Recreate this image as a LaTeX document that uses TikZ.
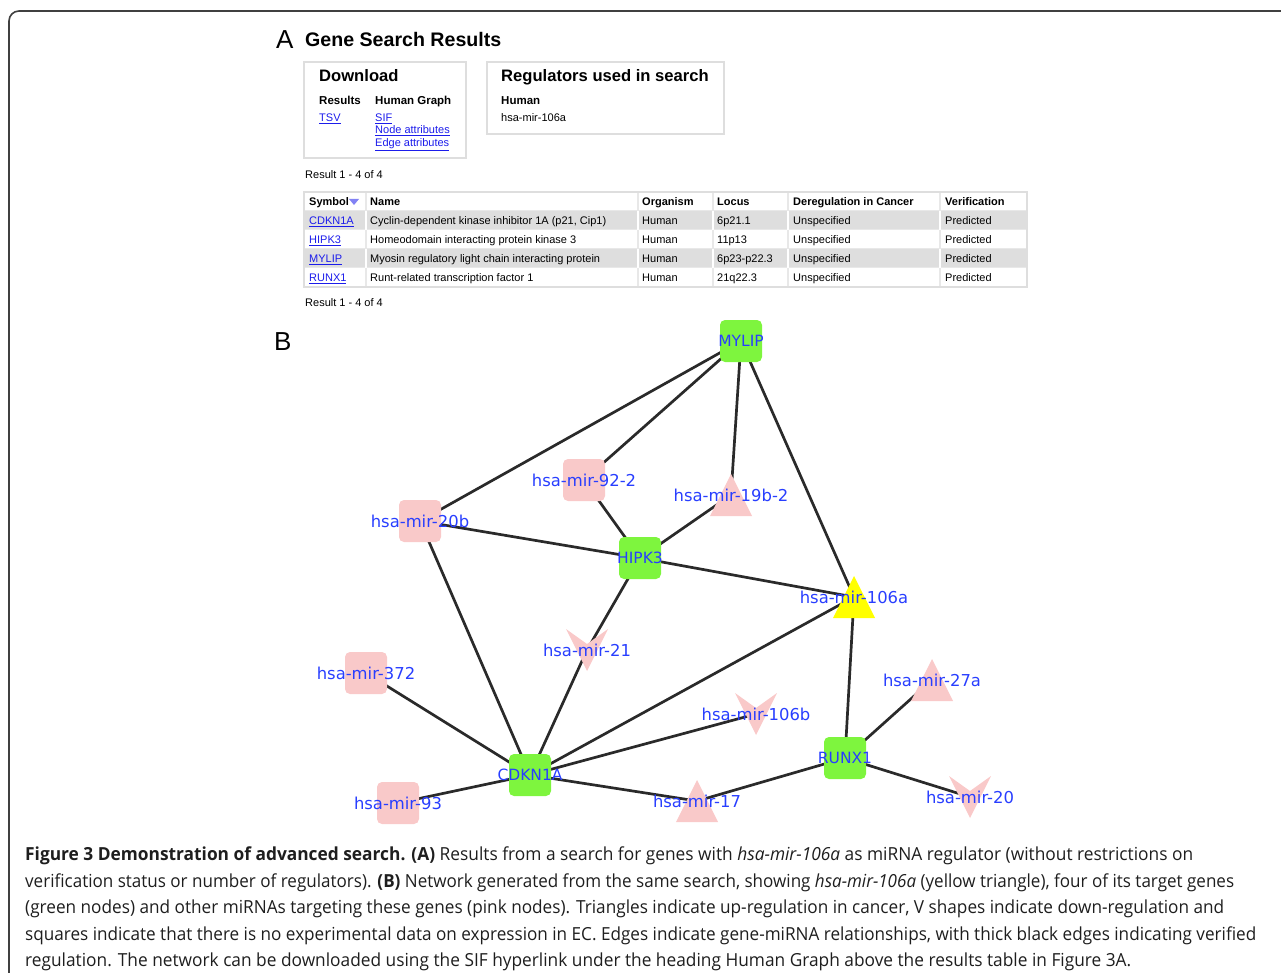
\documentclass[tikz,border=0pt]{standalone}
\usepackage{fontspec}
\setmainfont{Liberation Sans}
\newfontfamily\lblfont{DejaVu Sans}
\newfontfamily\capfont{Open Sans}
\usetikzlibrary{backgrounds}
\definecolor{genegreen}{RGB}{126,245,62}
\definecolor{mirpink}{RGB}{249,201,201}
\definecolor{miryellow}{RGB}{255,255,0}
\definecolor{lblblue}{RGB}{40,62,255}
\definecolor{linkblue}{RGB}{28,28,235}
\definecolor{edgec}{RGB}{42,42,42}
\definecolor{boxgray}{RGB}{222,222,222}
\definecolor{rowgray}{RGB}{222,222,222}
\definecolor{sepgray}{RGB}{232,232,232}
\definecolor{captext}{RGB}{30,30,30}
\newsavebox\capbox
\newcommand\capline[2]{\sbox\capbox{#2}\pgfmathsetmacro\capr{#1/\wd\capbox}\scalebox{\capr}[1]{\usebox\capbox}}
\newcommand\lnk[1]{\textcolor{linkblue}{\underline{#1}}}
\tikzset{
  lbl/.style={font=\lblfont\fontsize{15.5}{18}\selectfont, text=lblblue, inner sep=0pt, fill=none, draw=none},
  mlbl/.style={font=\lblfont\fontsize{16.4}{18}\selectfont, text=lblblue, inner sep=0pt, fill=none, draw=none},
  gene/.style={rectangle, rounded corners=5pt, fill=genegreen, minimum size=42pt, inner sep=0pt, label={[lbl]center:#1}},
  sqmir/.style={rectangle, rounded corners=5pt, fill=mirpink, minimum size=42pt, inner sep=0pt, label={[mlbl]center:#1}},
  upmir/.style={rectangle, minimum size=42pt, inner sep=0pt,
    path picture={\fill[mirpink] (path picture bounding box.south west) -- (path picture bounding box.south east) -- (path picture bounding box.north) -- cycle;},
    label={[mlbl]center:#1}},
  yelmir/.style={rectangle, minimum size=42pt, inner sep=0pt,
    path picture={\fill[miryellow] (path picture bounding box.south west) -- (path picture bounding box.south east) -- (path picture bounding box.north) -- cycle;},
    label={[mlbl]center:#1}},
  downmir/.style={rectangle, minimum size=42pt, inner sep=0pt,
    path picture={\fill[mirpink] (path picture bounding box.north west) -- ([yshift=-15pt]path picture bounding box.north) -- (path picture bounding box.north east) -- (path picture bounding box.south) -- cycle;},
    label={[mlbl]center:#1}},
  edge/.style={line width=2.7pt, edgec},
  txt/.style={inner sep=0pt, anchor=base west},
  small/.style={txt, font=\fontsize{11}{13}\selectfont},
  smallb/.style={txt, font=\bfseries\fontsize{11.5}{13}\selectfont},
  boxtitle/.style={txt, font=\bfseries\fontsize{16.6}{19}\selectfont},
  panel/.style={txt, font=\fontsize{26}{30}\selectfont},
  capl/.style={txt, font=\capfont\fontsize{18}{26}\selectfont, text=captext},
  infobox/.style={draw=boxgray, line width=1.8pt}
}
\begin{document}
\begin{tikzpicture}[x=1pt, y=-1pt]
\useasboundingbox (0,0) rectangle (1281,973);
% frame
\draw[line width=1.6pt, black!75, rounded corners=10pt] (9,1000) -- (9,11) -- (1300,11);

% ---------- Panel A ----------
\node[panel] (labA) at (276,49) {A};
\node[txt, font=\bfseries\fontsize{19.6}{22}\selectfont] (title) at (305,47) {Gene Search Results};
\draw[infobox] (304,62) rectangle (466,158);
\node[boxtitle] (dl) at (319,82) {Download};
\node[smallb] (dlres) at (319,105) {Results};
\node[smallb] (dlhg) at (375,105) {Human Graph};
\node[small] (tsv) at (319,121.5) {\lnk{TSV}};
\node[small] (sif) at (375,121.5) {\lnk{SIF}};
\node[small] (nattr) at (375,134) {\lnk{Node attributes}};
\node[small] (eattr) at (375,146.5) {\lnk{Edge attributes}};
\draw[infobox] (487,62) rectangle (724,134);
\node[boxtitle] (reg) at (501,82) {Regulators used in search};
\node[smallb] (reghum) at (501,105) {Human};
\node[small] (regmir) at (501,121.5) {hsa-mir-106a};
\node[small] (res1) at (305,179) {Result 1 - 4 of 4};

% table
\fill[rowgray] (304,211) rectangle (1027,230);
\fill[rowgray] (304,249) rectangle (1027,268);
\foreach \yy in {211,230,249,268} \draw[sepgray, line width=1pt] (304,\yy) -- (1027,\yy);
\foreach \xx in {366,638,713,788,940} \draw[white, line width=1.2pt] (\xx,192) -- (\xx,287);
\foreach \xx in {366,638,713,788,940} {\draw[sepgray, line width=1.2pt] (\xx,192) -- (\xx,211); \draw[sepgray, line width=1.2pt] (\xx,230) -- (\xx,249); \draw[sepgray, line width=1.2pt] (\xx,268) -- (\xx,287);}
\draw[boxgray, line width=1.2pt] (304,192) rectangle (1027,287);
\node[smallb, font=\bfseries\fontsize{11}{13}\selectfont] (hsym) at (309,206) {Symbol};
\fill[linkblue!55] (349,199) -- (359,199) -- (354,205) -- cycle;
\node[smallb, font=\bfseries\fontsize{11}{13}\selectfont] (hname) at (370,206) {Name};
\node[smallb, font=\bfseries\fontsize{11}{13}\selectfont] (horg) at (642,206) {Organism};
\node[smallb, font=\bfseries\fontsize{11}{13}\selectfont] (hloc) at (717,206) {Locus};
\node[smallb, font=\bfseries\fontsize{11}{13}\selectfont] (hder) at (793,206) {Deregulation in Cancer};
\node[smallb, font=\bfseries\fontsize{11}{13}\selectfont] (hver) at (945,206) {Verification};
% rows
\node[small] (s1) at (309,225) {\lnk{CDKN1A}};
\node[small] (n1) at (370,225) {Cyclin-dependent kinase inhibitor 1A (p21, Cip1)};
\node[small] (o1) at (642,225) {Human};
\node[small] (l1) at (717,225) {6p21.1};
\node[small] (d1) at (793,225) {Unspecified};
\node[small] (v1) at (945,225) {Predicted};
\node[small] (s2) at (309,244) {\lnk{HIPK3}};
\node[small] (n2) at (370,244) {Homeodomain interacting protein kinase 3};
\node[small] (o2) at (642,244) {Human};
\node[small] (l2) at (717,244) {11p13};
\node[small] (d2) at (793,244) {Unspecified};
\node[small] (v2) at (945,244) {Predicted};
\node[small] (s3) at (309,263) {\lnk{MYLIP}};
\node[small] (n3) at (370,263) {Myosin regulatory light chain interacting protein};
\node[small] (o3) at (642,263) {Human};
\node[small] (l3) at (717,263) {6p23-p22.3};
\node[small] (d3) at (793,263) {Unspecified};
\node[small] (v3) at (945,263) {Predicted};
\node[small] (s4) at (309,282) {\lnk{RUNX1}};
\node[small] (n4) at (370,282) {Runt-related transcription factor 1};
\node[small] (o4) at (642,282) {Human};
\node[small] (l4) at (717,282) {21q22.3};
\node[small] (d4) at (793,282) {Unspecified};
\node[small] (v4) at (945,282) {Predicted};
\node[small] (res2) at (305,307) {Result 1 - 4 of 4};

% ---------- Panel B ----------
\node[panel] (labB) at (274,350) {B};
\node[gene=MYLIP] (mylip) at (741,341) {};
\node[sqmir=hsa-mir-92-2] (m922) at (584,480) {};
\node[upmir=hsa-mir-19b-2] (m19b) at (731,495) {};
\node[sqmir=hsa-mir-20b] (m20b) at (420,521) {};
\node[gene=HIPK3] (hipk3) at (640,558) {};
\node[yelmir=hsa-mir-106a] (m106a) at (854,597) {};
\node[downmir=hsa-mir-21] (m21) at (587,650) {};
\node[sqmir=hsa-mir-372] (m372) at (366,673) {};
\node[upmir=hsa-mir-27a] (m27a) at (932,680) {};
\node[downmir=hsa-mir-106b] (m106b) at (756,714) {};
\node[gene=RUNX1] (runx1) at (845,758) {};
\node[gene=CDKN1A] (cdkn1a) at (530,775) {};
\node[sqmir=hsa-mir-93] (m93) at (398,803) {};
\node[upmir=hsa-mir-17] (m17) at (697,801) {};
\node[downmir=hsa-mir-20] (m20) at (970,797) {};

\begin{scope}[on background layer]
\draw[edge] (mylip.center) -- (m20b.center);
\draw[edge] (mylip.center) -- (m922.center);
\draw[edge] (mylip.center) -- (m19b.center);
\draw[edge] (mylip.center) -- (m106a.center);
\draw[edge] (m922.center) -- (hipk3.center);
\draw[edge] (m19b.center) -- (hipk3.center);
\draw[edge] (m20b.center) -- (hipk3.center);
\draw[edge] (hipk3.center) -- (m106a.center);
\draw[edge] (hipk3.center) -- (m21.center);
\draw[edge] (m20b.center) -- (cdkn1a.center);
\draw[edge] (m21.center) -- (cdkn1a.center);
\draw[edge] (m372.center) -- (cdkn1a.center);
\draw[edge] (m106a.center) -- (cdkn1a.center);
\draw[edge] (m106b.center) -- (cdkn1a.center);
\draw[edge] (cdkn1a.center) -- (m93.center);
\draw[edge] (cdkn1a.center) -- (m17.center);
\draw[edge] (m17.center) -- (runx1.center);
\draw[edge] (m106a.center) -- (runx1.center);
\draw[edge] (runx1.center) -- (m27a.center);
\draw[edge] (runx1.center) -- (m20.center);
\end{scope}

% ---------- Caption ----------
\node[capl] (cap1) at (25,860) {\capline{1168pt}{{\bfseries Figure 3 Demonstration of advanced search. (A)} Results from a search for genes with \textit{hsa-mir-106a} as miRNA regulator (without restrictions on}};
\node[capl] (cap2) at (25,887) {\capline{1209pt}{verification status or number of regulators). {\bfseries (B)} Network generated from the same search, showing \textit{hsa-mir-106a} (yellow triangle), four of its target genes}};
\node[capl] (cap3) at (25,913) {\capline{1199pt}{(green nodes) and other miRNAs targeting these genes (pink nodes). Triangles indicate up-regulation in cancer, V shapes indicate down-regulation and}};
\node[capl] (cap4) at (25,940) {\capline{1231pt}{squares indicate that there is no experimental data on expression in EC. Edges indicate gene-miRNA relationships, with thick black edges indicating verified}};
\node[capl] (cap5) at (25,966) {\capline{1106pt}{regulation. The network can be downloaded using the SIF hyperlink under the heading Human Graph above the results table in Figure 3A.}};
\end{tikzpicture}
\end{document}
